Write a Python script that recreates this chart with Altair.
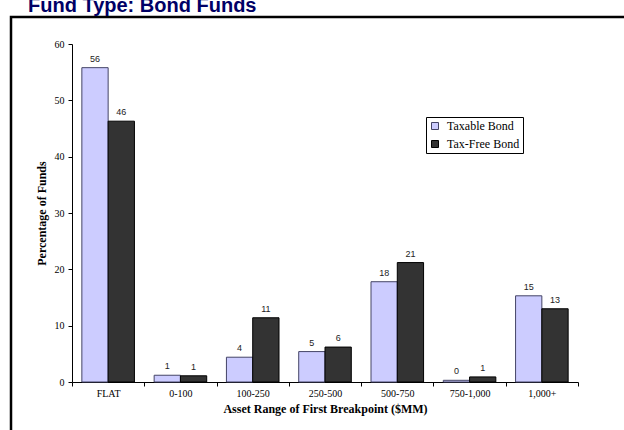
import altair as alt
import pandas as pd

# Share of funds by asset range of the first fee breakpoint
ranges = ["FLAT", "0-100", "100-250", "250-500", "500-750", "750-1,000", "1,000+"]
taxable = [55.8, 1.2, 4.4, 5.4, 17.8, 0.3, 15.3]
tax_free = [46.3, 1.1, 11.4, 6.2, 21.2, 0.9, 13.0]
series = ["Taxable Bond", "Tax-Free Bond"]
colors = ["#ccccff", "#333333"]
y_ticks = [0, 10, 20, 30, 40, 50, 60]
heading = "Fund Type: Bond Funds"

rows = []
for i, r in enumerate(ranges):
    rows.append({"range": r, "series": series[0], "pct": taxable[i]})
    rows.append({"range": r, "series": series[1], "pct": tax_free[i]})
df = pd.DataFrame(rows)

SERIF = "Liberation Serif"
SANS = "Liberation Sans"
W, H = 506, 338

x_enc = alt.X(
    "range:N",
    sort=ranges,
    scale=alt.Scale(paddingInner=0, paddingOuter=0),
    axis=alt.Axis(
        title="Asset Range of First Breakpoint ($MM)",
        labelAngle=0,
        tickBand="extent",
        tickSize=4,
        tickColor="black",
        domainColor="black",
        labelFont=SERIF,
        labelFontSize=10,
        labelColor="black",
        labelPadding=2,
        titleFont=SERIF,
        titleFontSize=12,
        titleFontWeight="bold",
        titleColor="black",
        titlePadding=5,
    ),
)
xoff_enc = alt.XOffset(
    "series:N", sort=series, scale=alt.Scale(paddingOuter=0.375, paddingInner=0)
)
y_enc = alt.Y(
    "pct:Q",
    scale=alt.Scale(domain=[0, 60], nice=False),
    axis=alt.Axis(
        title="Percentage of Funds",
        values=y_ticks,
        grid=False,
        tickSize=4,
        tickColor="black",
        domainColor="black",
        labelFont=SERIF,
        labelFontSize=10,
        labelColor="black",
        labelPadding=4,
        titleFont=SERIF,
        titleFontSize=12,
        titleFontWeight="bold",
        titleColor="black",
        titlePadding=6,
    ),
)

bars = alt.Chart(df).mark_bar(strokeWidth=1).encode(
    x=x_enc,
    xOffset=xoff_enc,
    y=y_enc,
    color=alt.Color(
        "series:N",
        sort=series,
        scale=alt.Scale(domain=series, range=colors),
        legend=alt.Legend(
            title=None,
            orient="none",
            legendX=354,
            legendY=73,
            direction="vertical",
            symbolType="square",
            symbolSize=49,
            symbolStrokeColor="black",
            symbolStrokeWidth=1,
            labelFont=SERIF,
            labelFontSize=12,
            labelColor="black",
            labelOffset=6,
            rowPadding=6,
            padding=3,
            strokeColor="black",
            fillColor="white",
        ),
    ),
    stroke=alt.Stroke(
        "series:N",
        sort=series,
        scale=alt.Scale(domain=series, range=["#444466", "#000000"]),
        legend=None,
    ),
)

labels = alt.Chart(df).mark_text(
    font=SANS, fontSize=9, color="#222222", baseline="bottom", dy=-4
).encode(
    x=alt.X("range:N", sort=ranges),
    xOffset=alt.XOffset("series:N", sort=series),
    y=alt.Y("pct:Q"),
    text=alt.Text("pct:Q", format=".0f"),
)

# outer frame around the figure
frame = alt.Chart(pd.DataFrame({"k": [0]})).mark_rect(
    fill=None, stroke="black", strokeWidth=2.5
).encode(
    x=alt.value(-61), x2=alt.value(W + 60), y=alt.value(-27), y2=alt.value(H + 70)
)

# page heading above the frame
head = alt.Chart(pd.DataFrame({"t": [heading]})).mark_text(
    font=SANS,
    fontSize=20,
    fontWeight="bold",
    color="#000066",
    align="left",
    baseline="alphabetic",
).encode(text="t:N", x=alt.value(-44), y=alt.value(-32))

chart = (
    alt.layer(frame, bars, labels, head)
    .properties(
        width=W,
        height=H,
        padding={"left": 72, "top": 44, "right": 46, "bottom": 48},
        autosize=alt.AutoSizeParams(type="none"),
    )
    .configure_view(stroke=None)
)

chart.save("out.html", embed_options={"renderer": "svg", "actions": False})
